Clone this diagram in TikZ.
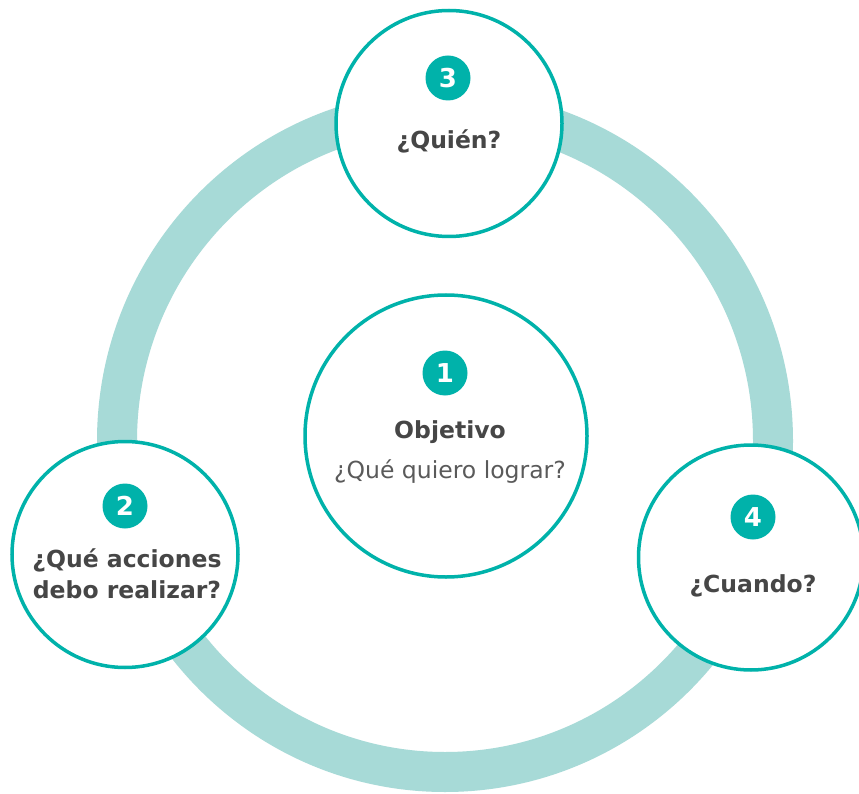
\documentclass[tikz,border=0pt]{standalone}
\usepackage{fontspec}
\setmainfont{DejaVu Sans}
\definecolor{teal1}{HTML}{00B2AA}
\definecolor{ringc}{HTML}{A7DAD7}
\definecolor{txtb}{HTML}{464646}
\definecolor{txtr}{HTML}{5A5A5A}
\begin{document}
\begin{tikzpicture}[x=1pt,y=-1pt,
  bigc/.style={circle,draw=teal1,line width=3.5pt,fill=white,inner sep=0pt},
  badge/.style={circle,fill=teal1,text=white,inner sep=0pt,minimum size=45pt,font=\fontsize{26}{26}\selectfont\bfseries},
  lblb/.style={anchor=base,text=txtb,font=\fontsize{23.5}{30}\selectfont\bfseries,align=center,inner sep=0pt},
  lblr/.style={anchor=base,text=txtr,font=\fontsize{23.5}{30}\selectfont,inner sep=0pt}]
\useasboundingbox (0,0) rectangle (859,794);
\fill[white] (0,0) rectangle (859,794);
% ring
\draw[ringc,line width=40pt] (445,441) ellipse [x radius=328,y radius=331];
% circles
\node[bigc,minimum size=226pt] (c3) at (449,123.5) {};
\node[bigc,minimum size=282pt] (c1) at (446,436) {};
\node[bigc,minimum size=226pt] (c2) at (125,554.5) {};
\node[bigc,minimum size=225pt] (c4) at (751,557.5) {};
% badges
\node[badge] (b3) at (448,78) {3};
\node[badge] (b1) at (445,373) {1};
\node[badge] (b2) at (125,506) {2};
\node[badge] (b4) at (753,517) {4};
% texts
\node[lblb] (t3) at (449,149) {¿Quién?};
\node[lblb] (t1a) at (450,438) {Objetivo};
\node[lblr] (t1b) at (450,478) {¿Qué quiero lograr?};
\node[lblb] (t2a) at (127,567) {¿Qué acciones};
\node[lblb] (t2b) at (127,598) {debo realizar?};
\node[lblb] (t4) at (753,592) {¿Cuando?};
\end{tikzpicture}
\end{document}
